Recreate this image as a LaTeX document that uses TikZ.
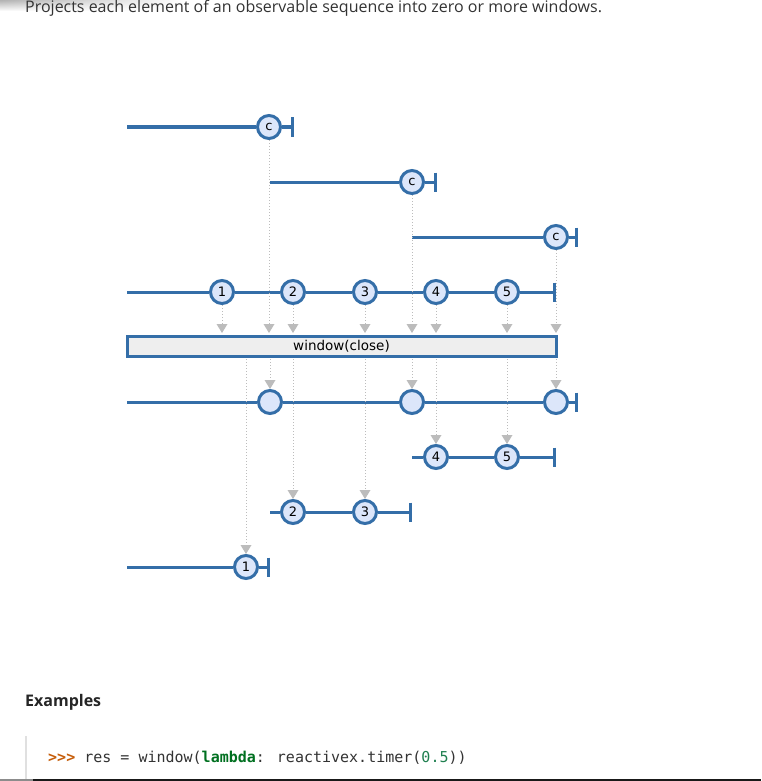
\documentclass[tikz,border=0pt]{standalone}
\usepackage{fontspec}
\setmainfont{Open Sans}
\newfontfamily\marblefont{DejaVu Sans}
\newfontfamily\codefont{DejaVu Sans Mono}
\usetikzlibrary{arrows.meta,fadings}
\definecolor{marbleblue}{RGB}{52,110,168}
\definecolor{marblefill}{RGB}{220,230,250}
\definecolor{opfill}{RGB}{238,238,238}
\definecolor{feedgray}{RGB}{188,188,188}
\definecolor{promptred}{RGB}{198,93,9}
\definecolor{kwgreen}{RGB}{0,112,32}
\definecolor{numgreen}{RGB}{32,128,80}
\tikzfading[name=fade right, left color=transparent!0, right color=transparent!100]
\tikzstyle{marble} = [circle,draw=marbleblue,fill=marblefill,line width=3pt,minimum size=23pt,inner sep=0pt,font=\marblefont\fontsize{13}{13}\selectfont]
\tikzstyle{timeline} = [draw=marbleblue,line width=3pt,-{Bar[width=19pt]}]
\tikzstyle{feed} = [draw=feedgray,line width=1pt,dash pattern=on 1pt off 2pt,shorten >=1.5pt,-{Triangle[width=11pt,length=9pt,line width=0pt]}]
\tikzstyle{op} = [rectangle,draw=marbleblue,fill=opfill,line width=3pt,minimum width=429pt,minimum height=20pt,inner sep=0pt,font=\marblefont\fontsize{13.5}{13.5}\selectfont]

\begin{document}
\begin{tikzpicture}[x=1pt,y=-1pt]
  \useasboundingbox[fill=white] (0,0) rectangle (761,781);
  \shade[top color=black!30,bottom color=white,path fading=fade right] (0,0) rectangle (185,11);
  \node[anchor=base west,inner sep=0pt,font=\fontsize{16}{16}\selectfont,text=black!80] (title) at (25,13) {Projects each element of an observable sequence into zero or more windows.};

  \coordinate (s1) at (127,127);
  \node[marble] (c1) at (269,127) {c};
  \coordinate (e1) at (294,127);
  \coordinate (s2) at (270,182);
  \node[marble] (c2) at (412,182) {c};
  \coordinate (e2) at (437,182);
  \coordinate (s3) at (412,237);
  \node[marble] (c3) at (556,237) {c};
  \coordinate (e3) at (578,237);

  \coordinate (s4) at (127,292);
  \node[marble] (a1) at (222,292) {1};
  \node[marble] (a2) at (293,292) {2};
  \node[marble] (a3) at (365,292) {3};
  \node[marble] (a4) at (436,292) {4};
  \node[marble] (a5) at (507,292) {5};
  \coordinate (e4) at (556,292);

  \node[op] (win) at (341.5,346) {window(close)};

  \coordinate (s5) at (127,402);
  \node[marble] (w1) at (270,402) {};
  \node[marble] (w2) at (412,402) {};
  \node[marble] (w3) at (556,402) {};
  \coordinate (e5) at (578,402);

  \coordinate (s6) at (412,457);
  \node[marble] (b4) at (436,457) {4};
  \node[marble] (b5) at (507,457) {5};
  \coordinate (e6) at (556,457);
  \coordinate (s7) at (270,512);
  \node[marble] (b2) at (293,512) {2};
  \node[marble] (b3) at (365,512) {3};
  \coordinate (e7) at (412,512);
  \coordinate (s8) at (127,567);
  \node[marble] (b1) at (246,567) {1};
  \coordinate (e8) at (270,567);

  \draw[timeline] (s1) -- (c1) -- (e1);
  \draw[timeline] (s2) -- (c2) -- (e2);
  \draw[timeline] (s3) -- (c3) -- (e3);
  \draw[timeline] (s4) -- (a1) -- (a2) -- (a3) -- (a4) -- (a5) -- (e4);
  \draw[timeline] (s5) -- (w1) -- (w2) -- (w3) -- (e5);
  \draw[timeline] (s6) -- (b4) -- (b5) -- (e6);
  \draw[timeline] (s7) -- (b2) -- (b3) -- (e7);
  \draw[timeline] (s8) -- (b1) -- (e8);

  \foreach \n in {c1,a1,a2,a3,c2,a4,a5,c3}
    \draw[feed] (\n) -- (\n |- win.north);
  \foreach \n in {w1,w2,w3,b1,b2,b3,b4,b5}
    \draw[feed,shorten <=1.5pt,shorten >=0pt] (win.south -| \n) -- (\n);

  \node[anchor=base west,inner sep=0pt,font=\bfseries\fontsize{16}{16}\selectfont,text=black!85] (examples) at (25,706) {Examples};
  \draw[black!12,line width=1.5pt] (26,736) -- (26,781);
  \node[anchor=base west,inner sep=0pt,font=\codefont\fontsize{15}{15}\selectfont,text=black!80] (code) at (48,762) {\textcolor{promptred}{\textbf{>>>}} res = window(\textcolor{kwgreen}{\textbf{lambda}}: reactivex.timer(\textcolor{numgreen}{0.5}))};
  \fill[black!45] (0,778.5) rectangle (33,781);
  \fill[black!90] (33,778.5) rectangle (761,781);
\end{tikzpicture}
\end{document}
